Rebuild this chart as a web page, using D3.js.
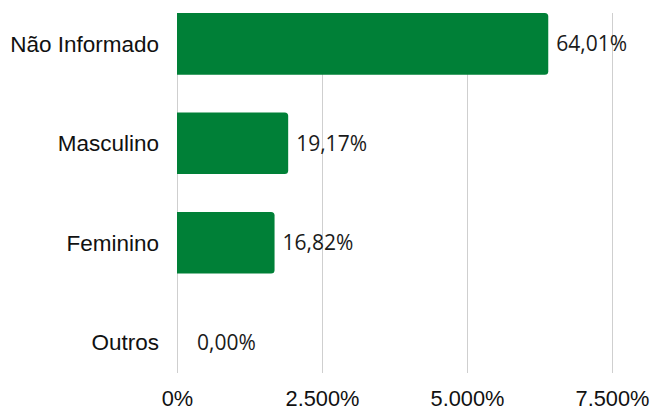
<!DOCTYPE html>
<html>
<head>
<meta charset="utf-8">
<script src="https://cdn.jsdelivr.net/npm/d3@7"></script>
<style>
  html, body { margin: 0; padding: 0; background: #fff; }
  svg { display: block; }
</style>
</head>
<body>
<svg id="chart" width="653" height="407"></svg>
<script>
// Distribuição por sexo (percentual)
const categories = ["Não Informado", "Masculino", "Feminino", "Outros"];
const values = [64.01, 19.17, 16.82, 0.00];
const valueLabels = ["64,01%", "19,17%", "16,82%", "0,00%"];
const tickValues = [0, 25, 50, 75];
const tickLabels = ["0%", "2.500%", "5.000%", "7.500%"];

const svg = d3.select("#chart");
const plotLeft = 177, plotRight = 612, plotTop = 13, plotBottom = 373;
const barColor = "#008037";

const x = d3.scaleLinear().domain([0, 75]).range([plotLeft, plotRight]);
const y = d3.scaleBand().domain(categories).range([plotTop, plotBottom])
  .paddingInner(0.38).paddingOuter(0);

// vertical gridlines
svg.append("g").selectAll("line").data(tickValues).join("line")
  .attr("x1", d => x(d) + 0.5).attr("x2", d => x(d) + 0.5)
  .attr("y1", plotTop).attr("y2", plotBottom)
  .attr("stroke", "#cfcfcf").attr("stroke-width", 1);

// x axis tick labels
const xAxis = d3.axisBottom(x).tickValues(tickValues)
  .tickFormat((d, i) => tickLabels[i]).tickSize(0).tickPadding(0);
const gx = svg.append("g").attr("transform", `translate(0,${plotBottom})`).call(xAxis);
gx.select(".domain").remove();
gx.selectAll("text")
  .attr("y", 25).attr("dy", "0.35em")
  .attr("font-family", "'Liberation Sans', Arial, sans-serif")
  .attr("font-size", 21.8).attr("fill", "#111");

// y axis category labels
const yAxis = d3.axisLeft(y).tickSize(0).tickPadding(0);
const gy = svg.append("g").attr("transform", `translate(${plotLeft - 18},0)`).call(yAxis);
gy.select(".domain").remove();
gy.selectAll("text")
  .attr("dy", "0.35em")
  .attr("font-family", "'Liberation Sans', Arial, sans-serif")
  .attr("font-size", 22.5).attr("fill", "#111");

// bars with rounded right end
function barPath(x0, x1, y0, h, r) {
  const w = x1 - x0;
  if (w <= 0) return "";
  r = Math.min(r, w / 2, h / 2);
  return `M${x0},${y0}H${x1 - r}Q${x1},${y0} ${x1},${y0 + r}V${y0 + h - r}Q${x1},${y0 + h} ${x1 - r},${y0 + h}H${x0}Z`;
}
svg.append("g").selectAll("path").data(categories).join("path")
  .attr("d", (c, i) => barPath(x(0), x(values[i]), y(c), y.bandwidth(), 3.5))
  .attr("fill", barColor);

// value labels, kept clear of the shortest bars
svg.append("g").selectAll("text").data(categories).join("text")
  .attr("x", (c, i) => Math.max(x(values[i]) + 8, x(0) + 20))
  .attr("y", c => y(c) + y.bandwidth() / 2)
  .attr("dy", "0.35em")
  .attr("font-family", "'Open Sans', 'Noto Sans', sans-serif")
  .attr("font-size", 21).attr("fill", "#1a1a1a")
  .text((c, i) => valueLabels[i]);
</script>
</body>
</html>
